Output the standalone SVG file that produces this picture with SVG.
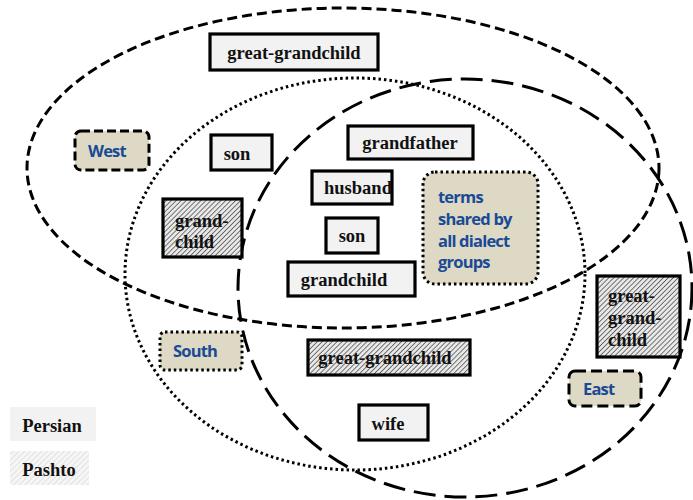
<svg xmlns="http://www.w3.org/2000/svg" width="693" height="500" viewBox="0 0 693 500">
<defs>
<pattern id="hatch" width="3.5" height="3.5" patternUnits="userSpaceOnUse" patternTransform="rotate(45)">
<rect width="3.5" height="3.5" fill="#e8e8e8"/>
<line x1="0" y1="0" x2="0" y2="3.5" stroke="#333" stroke-width="1.3"/>
</pattern>
<pattern id="hatchLight" width="4" height="4" patternUnits="userSpaceOnUse" patternTransform="rotate(45)">
<rect width="4" height="4" fill="#f6f6f6"/>
<line x1="0" y1="0" x2="0" y2="4" stroke="#d4d4d4" stroke-width="1.2"/>
</pattern>
</defs>
<style>
.term{font-family:"Liberation Serif","Times New Roman",serif;font-weight:bold;font-size:18.5px;fill:#111;text-anchor:middle}
.left{text-anchor:start}
.lab{font-family:"Open Sans","Liberation Sans",sans-serif;font-weight:bold;font-size:16.5px;fill:#1a4a96;letter-spacing:-0.8px}
.box{fill:#f2f2f2;stroke:#000;stroke-width:3.2}
.hbox{fill:url(#hatch);stroke:#000;stroke-width:3.2}
.region{fill:#ddd9c4;stroke:#000;stroke-width:3}
.ell{fill:none;stroke:#000;stroke-width:3}
</style>
<g id="connectors">
<ellipse id="west-set" class="ell" cx="343" cy="168" rx="316" ry="160" stroke-dasharray="10 5"/>
<ellipse id="south-set" class="ell" cx="355" cy="274" rx="230" ry="196" stroke-dasharray="2.5 3"/>
<ellipse id="east-set" class="ell" cx="465" cy="288" rx="227" ry="209" stroke-dasharray="22 9"/>
</g>
<g id="n-great-grandchild-top"><rect class="box" x="210" y="34" width="168" height="36"/><text class="term" x="294" y="59">great-grandchild</text></g>
<g id="n-west"><rect class="region" x="75" y="131" width="74" height="39" rx="6" stroke-dasharray="9 4"/><text class="lab" x="88" y="157">West</text></g>
<g id="n-son-top"><rect class="box" x="211" y="135" width="61" height="35"/><text class="term" x="237" y="160">son</text></g>
<g id="n-grandfather"><rect class="box" x="348" y="126" width="125" height="33"/><text class="term" x="410" y="149">grandfather</text></g>
<g id="n-husband"><rect class="box" x="312" y="171" width="80" height="33" stroke-width="1.5"/><text class="term" x="358" y="194">husband</text></g>
<g id="n-terms-shared"><rect class="region" x="423" y="172" width="115" height="112" rx="12" stroke-dasharray="2.5 3"/><text class="lab" x="438" y="203">terms</text><text class="lab" x="438" y="225">shared by</text><text class="lab" x="438" y="247">all dialect</text><text class="lab" x="438" y="268">groups</text></g>
<g id="n-grand-child"><rect class="hbox" x="163" y="199" width="79" height="58"/><text class="term left" x="175" y="227">grand-</text><text class="term left" x="175" y="248">child</text></g>
<g id="n-son-mid"><rect class="box" x="326" y="218" width="52" height="35"/><text class="term" x="352" y="242">son</text></g>
<g id="n-grandchild"><rect class="box" x="288" y="262" width="127" height="34"/><text class="term" x="344" y="286">grandchild</text></g>
<g id="n-great-grandchild-east"><rect class="hbox" x="597" y="276" width="83" height="81"/><text class="term left" x="608" y="302">great-</text><text class="term left" x="608" y="324">grand-</text><text class="term left" x="608" y="346">child</text></g>
<g id="n-south"><rect class="region" x="160" y="332" width="82" height="38" rx="5" stroke-dasharray="2.5 3"/><text class="lab" x="173" y="357">South</text></g>
<g id="n-great-grandchild-mid"><rect class="hbox" x="308" y="340" width="162" height="35"/><text class="term" x="385" y="364">great-grandchild</text></g>
<g id="n-east"><rect class="region" x="569" y="371" width="72" height="35" rx="6" stroke-dasharray="11 5"/><text class="lab" x="583" y="395">East</text></g>
<g id="n-wife"><rect class="box" x="359" y="405" width="69" height="35"/><text class="term" x="388" y="430">wife</text></g>
<g id="legend-persian"><rect x="10" y="407" width="86" height="34" fill="#f2f2f2"/><text class="term" x="52" y="432">Persian</text></g>
<g id="legend-pashto"><rect x="10" y="451" width="79" height="34" fill="url(#hatchLight)"/><text class="term" x="49" y="476">Pashto</text></g>
</svg>
